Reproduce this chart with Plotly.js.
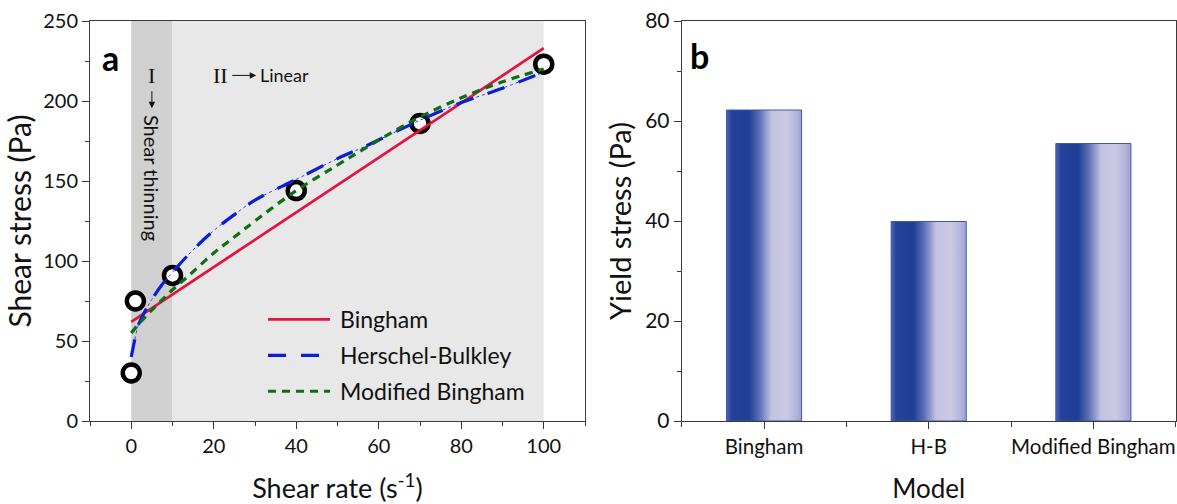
<!DOCTYPE html>
<html>
<head>
<meta charset="utf-8">
<script src="https://cdn.plot.ly/plotly-3.0.1.min.js"></script>
<style>
  html, body { margin: 0; padding: 0; background: #fff; }
  #chart { width: 1177px; height: 504px; }
</style>
</head>
<body>
<div id="chart"></div>
<script>
// ---------- Data ----------
// Panel a: measured points
const measShearRate   = [0, 1, 10, 40, 70, 100];
const measShearStress = [30, 75, 91, 144, 186, 223];

// Panel a: fitted models
const binghamRate   = [0, 100];
const binghamStress = [62, 233];

const hbRate   = [0, 0.7, 1.6, 2.8, 5, 7.4, 10, 15, 20, 25, 30, 40, 50, 57, 70, 80, 90, 100];
const hbStress = [40, 49, 59, 66, 76, 85, 93, 107, 119, 129, 138, 151, 164, 172, 188, 199, 208, 218];

const mbRate   = [0, 3, 6.6, 10, 14, 20, 25, 30, 40, 50, 57, 65, 70, 80, 90, 100];
const mbStress = [55, 64, 73.5, 82, 91, 105, 115, 125, 144, 160, 171, 183, 190, 202, 212, 220];

// Regions: I (shear thinning) and II (linear)
const regionBounds = [0, 10, 100];

// Panel b: yield stress
const models      = ['Bingham', 'H-B', 'Modified Bingham'];
const yieldStress = [62.2, 39.9, 55.5];

const seriesNames = ['Bingham', 'Herschel-Bulkley', 'Modified Bingham'];

// ---------- Traces ----------
const FONT = 'Lato, "Open Sans", sans-serif';

const traces = [
  {
    x: measShearRate, y: measShearStress, type: 'scatter', mode: 'markers',
    marker: { symbol: 'circle', size: 17, color: '#ffffff', line: { color: '#000000', width: 4.5 } },
    showlegend: false, hoverinfo: 'x+y', xaxis: 'x', yaxis: 'y'
  },
  {
    x: binghamRate, y: binghamStress, type: 'scatter', mode: 'lines', name: seriesNames[0],
    line: { color: '#e3143f', width: 2.8 }, legendgroup: 'g1', xaxis: 'x', yaxis: 'y'
  },
  {
    x: hbRate, y: hbStress, type: 'scatter', mode: 'lines', showlegend: false,
    line: { color: '#3340ff', width: 1, dash: 'dot', shape: 'spline' }, xaxis: 'x', yaxis: 'y', hoverinfo: 'skip'
  },
  {
    x: hbRate, y: hbStress, type: 'scatter', mode: 'lines', name: seriesNames[1],
    line: { color: '#0a1ed6', width: 3.2, dash: '18px,15px', shape: 'spline' }, legendgroup: 'g2', xaxis: 'x', yaxis: 'y'
  },
  {
    x: mbRate, y: mbStress, type: 'scatter', mode: 'lines', name: seriesNames[2],
    line: { color: '#0e6e12', width: 3.2, dash: '8px,6px', shape: 'spline' }, legendgroup: 'g3', xaxis: 'x', yaxis: 'y'
  },
  {
    x: models.map((_, i) => i), y: yieldStress, type: 'bar', showlegend: false,
    width: 0.456,
    marker: { color: '#6f7fc0', line: { color: '#3a58b4', width: 1 } },
    xaxis: 'x2', yaxis: 'y2', hovertext: models, hoverinfo: 'text+y'
  }
];

// ---------- Layout ----------
const axisCommon = {
  showgrid: false, zeroline: false, showline: true, mirror: true,
  linecolor: '#3a3a3a', linewidth: 1,
  ticks: 'outside', ticklen: 7, tickwidth: 1, tickcolor: '#3a3a3a',
  ticklabeloverflow: 'allow',
  tickfont: { family: FONT, size: 20, color: '#111' }
};

const layout = {
  width: 1177, height: 504,
  margin: { l: 0, r: 0, t: 0, b: 0 },
  paper_bgcolor: '#ffffff', plot_bgcolor: '#ffffff',
  font: { family: FONT, color: '#111' },
  showlegend: true,
  legend: {
    x: 300 / 1177, y: 1 - 298 / 504, xanchor: 'left', yanchor: 'top',
    bgcolor: 'rgba(0,0,0,0)', borderwidth: 0,
    font: { family: FONT, size: 23, color: '#111' },
    tracegroupgap: 3
  },
  xaxis: Object.assign({}, axisCommon, {
    domain: [90 / 1177, 585 / 1177], range: [-10, 110], anchor: 'y',
    tick0: 0, dtick: 20,
    minor: { dtick: 10, ticks: 'outside', ticklen: 4, tickcolor: '#3a3a3a' },
    title: { text: 'Shear rate (s<sup>-1</sup>)', font: { family: FONT, size: 27 }, standoff: 31 }
  }),
  yaxis: Object.assign({}, axisCommon, {
    domain: [1 - 421 / 504, 1 - 21 / 504], range: [0, 250], anchor: 'x',
    tick0: 0, dtick: 50,
    minor: { dtick: 25, ticks: 'outside', ticklen: 4, tickcolor: '#3a3a3a' },
    title: { text: 'Shear stress (Pa)', font: { family: FONT, size: 30 }, standoff: 2 }
  }),
  xaxis2: Object.assign({}, axisCommon, {
    domain: [681.7 / 1177, 1175.7 / 1177], range: [-0.5, 2.5], anchor: 'y2',
    tickvals: models.map((_, i) => i), ticktext: models,
    tickfont: { family: FONT, size: 20.5, color: '#111' },
    minor: { dtick: 0.5, tick0: 0.5, ticks: 'outside', ticklen: 5, tickcolor: '#3a3a3a' },
    title: { text: 'Model', font: { family: FONT, size: 26 }, standoff: 25 }
  }),
  yaxis2: Object.assign({}, axisCommon, {
    domain: [1 - 421 / 504, 1 - 21 / 504], range: [0, 80], anchor: 'x2',
    tick0: 0, dtick: 20,
    tickfont: { family: FONT, size: 21, color: '#111' },
    minor: { dtick: 10, ticks: 'outside', ticklen: 4, tickcolor: '#3a3a3a' },
    title: { text: 'Yield stress (Pa)', font: { family: FONT, size: 29 }, standoff: 4 }
  }),
  shapes: [
    { type: 'rect', xref: 'x', yref: 'y domain', x0: regionBounds[0], x1: regionBounds[1], y0: 0, y1: 1,
      fillcolor: '#d0d0d0', line: { width: 0 }, layer: 'below' },
    { type: 'rect', xref: 'x', yref: 'y domain', x0: regionBounds[1], x1: regionBounds[2], y0: 0, y1: 1,
      fillcolor: '#e8e8e8', line: { width: 0 }, layer: 'below' }
  ],
  annotations: [
    { text: '<b>a</b>', xref: 'paper', yref: 'paper', x: 110 / 1177, y: 1 - 57 / 504,
      xanchor: 'center', yanchor: 'middle',
      showarrow: false, font: { family: FONT, size: 34, color: '#000' } },
    { text: '<b>b</b>', xref: 'paper', yref: 'paper', x: 700 / 1177, y: 1 - 55 / 504,
      xanchor: 'center', yanchor: 'middle',
      showarrow: false, font: { family: FONT, size: 34, color: '#000' } },
    // "I" with a downward arrow (region I)
    { text: 'I', xref: 'x', yref: 'y', x: 5, y: 195.5, ax: 0, ay: -33, showarrow: true,
      arrowhead: 2, arrowsize: 1.3, arrowwidth: 1, arrowcolor: '#111', standoff: 0, startstandoff: 2,
      font: { family: '"Liberation Serif", serif', size: 22, color: '#111' } },
    { text: 'Shear thinning', xref: 'x', yref: 'y', x: 5, y: 152, textangle: 90, showarrow: false,
      font: { family: FONT, size: 20, color: '#111' } },
    // "II" with a rightward arrow (region II)
    { text: 'II', xref: 'x', yref: 'y', x: 30.3, y: 216, ax: -36, ay: 0, showarrow: true,
      arrowhead: 2, arrowsize: 1.3, arrowwidth: 1, arrowcolor: '#111', standoff: 0, startstandoff: 3,
      font: { family: '"Liberation Serif", serif', size: 22, color: '#111' } },
    { text: 'Linear', xref: 'x', yref: 'y', x: 30.8, y: 216, xanchor: 'left', showarrow: false,
      font: { family: FONT, size: 18, color: '#111' } }
  ]
};

Plotly.newPlot('chart', traces, layout, { staticPlot: true, displayModeBar: false }).then(gd => {
  const ns = 'http://www.w3.org/2000/svg';
  const svg = gd.querySelector('svg.main-svg');
  let defs = svg.querySelector('defs');
  if (!defs) { defs = document.createElementNS(ns, 'defs'); svg.insertBefore(defs, svg.firstChild); }
  const lg = document.createElementNS(ns, 'linearGradient');
  lg.setAttribute('id', 'barGrad');
  lg.setAttribute('x1', '0'); lg.setAttribute('y1', '0');
  lg.setAttribute('x2', '1'); lg.setAttribute('y2', '0');
  [[0, '#4e64b2'], [0.07, '#24429b'], [0.3, '#1e3f96'], [0.45, '#6274ba'],
   [0.6, '#c3c3e1'], [0.8, '#cbc9e4'], [0.92, '#b3b5da'], [1, '#9da1cf']].forEach(([o, c]) => {
    const s = document.createElementNS(ns, 'stop');
    s.setAttribute('offset', o); s.setAttribute('stop-color', c);
    lg.appendChild(s);
  });
  defs.appendChild(lg);
  gd.querySelectorAll('.barlayer .point path').forEach(p => { p.style.fill = 'url(#barGrad)'; });
  // longer legend line samples, as in the reference
  gd.querySelectorAll('.legend .scrollbox').forEach(g => { g.removeAttribute('clip-path'); });
  gd.querySelectorAll('.legend').forEach(g => { g.style.overflow = 'visible'; });
  gd.querySelectorAll('.legend .traces path.js-line').forEach(p => { p.setAttribute('d', 'M-32,0h62'); });
});
</script>
</body>
</html>
